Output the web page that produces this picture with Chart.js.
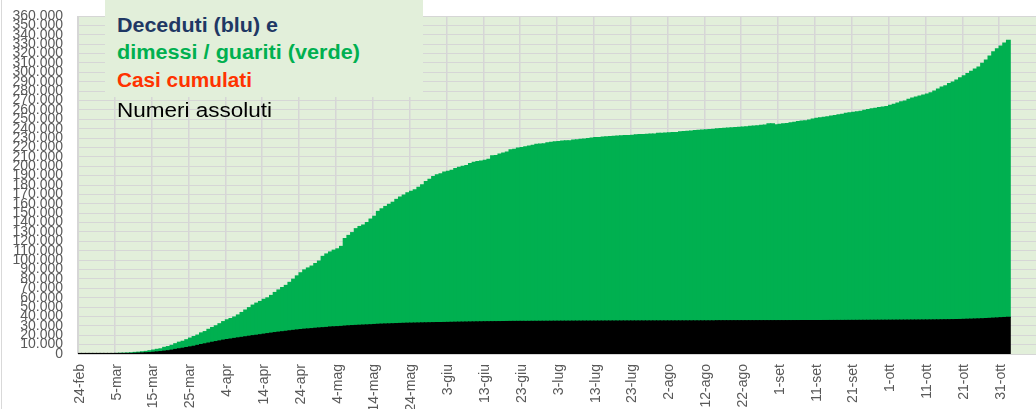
<!DOCTYPE html>
<html>
<head>
<meta charset="utf-8">
<script src="https://cdn.jsdelivr.net/npm/chart.js@4.4.1/dist/chart.umd.min.js"></script>
<style>
  html, body { margin:0; padding:0; background:#ffffff; }
  #wrap { position:relative; width:1036px; height:409px; overflow:hidden; }
  #frame { position:absolute; left:1px; top:0; width:1px; height:409px; background:#d9d9d9; }
  #box { position:absolute; left:105px; top:0; width:318px; height:97px; background:#e2efda; }
  .ln { position:absolute; left:12px; height:26px; line-height:26px; white-space:nowrap;
        font-family:"Liberation Sans", Arial, sans-serif; font-size:20px; transform-origin:0 50%; }
  .b { font-weight:bold; }
</style>
</head>
<body>
<div id="wrap">
  <canvas id="c" width="1036" height="409"></canvas>
  <div id="frame"></div>
  <div id="box">
    <div class="ln b" data-w="161" style="top:12px;color:#1f3864;">Deceduti (blu) e</div>
    <div class="ln b" data-w="243" style="top:39px;color:#00b050;">dimessi / guariti (verde)</div>
    <div class="ln b" data-w="135" style="top:67px;color:#ff3300;">Casi cumulati</div>
    <div class="ln" data-w="155" style="top:97px;color:#000000;">Numeri assoluti</div>
  </div>
</div>
<script>
// ---- data (24-feb-2020 .. 2-nov-2020, daily cumulative) ----
const startDay = { month: 1, day: 24 };            // 24 February
const monthNames = ['gen','feb','mar','apr','mag','giu','lug','ago','set','ott','nov','dic'];
const monthLengths = [31,29,31,30,31,30,31,31,30,31,30,31];
const totalCategories = 260;                       // axis runs a few days past the data

const deceduti = [
  7,10,12,17,21,29,
  34,52,79,107,148,197,233,366,463,631,827,1016,1266,1441,1809,2158,2503,2978,3405,4032,4825,5476,6077,6820,7503,8165,9134,10023,10779,11591,12428,
  13155,13915,14681,15362,15887,16523,17127,17669,18279,18849,19468,19899,20465,21067,21645,22170,22745,23227,23660,24114,24648,25085,25549,25969,26384,26644,26977,27359,27682,27967,
  28236,28710,28884,29079,29315,29684,29958,30201,30395,30560,30739,30911,31106,31368,31610,31763,31908,32007,32169,32330,32486,32616,32735,32785,32877,32955,33072,33142,33229,33340,33415,
  33475,33530,33601,33689,33774,33846,33899,33964,34043,34114,34167,34223,34301,34345,34371,34405,34448,34514,34561,34610,34634,34657,34675,34644,34678,34708,34716,34738,34744,34767,
  34788,34818,34833,34854,34861,34869,34899,34914,34926,34938,34945,34954,34967,34984,34997,35017,35028,35042,35045,35058,35073,35082,35092,35097,35102,35107,35112,35123,35129,35132,35141,
  35146,35154,35166,35171,35181,35187,35190,35203,35205,35209,35215,35225,35231,35234,35392,35396,35400,35405,35412,35418,35427,35430,35437,35441,35445,35458,35463,35472,35473,35477,35483,
  35491,35497,35507,35518,35534,35541,35553,35563,35577,35587,35597,35603,35610,35624,35633,35645,35658,35668,35692,35707,35724,35738,35758,35781,35801,35818,35835,35851,35875,35894,
  35918,35941,35968,35986,36002,36030,36061,36083,36111,36140,36166,36205,36246,36289,36372,36427,36474,36543,36616,36705,36832,36968,37059,37210,37338,37479,37700,37905,38122,38321,38618,
  38826,39059
];

const dimessiGuariti = [
  1,1,3,45,46,46,
  83,149,160,276,414,523,589,622,724,1004,1045,1258,1439,1966,2335,2749,2941,4025,4440,5129,6072,7024,7432,8326,9362,10361,10950,12384,13030,14620,15729,
  16847,18278,19758,20996,21815,22837,24392,26491,28470,30455,32534,34211,35435,37130,38092,40164,42727,44927,47055,48877,51600,54543,57576,60498,63120,64928,66624,68941,71252,75945,
  78249,79914,81654,82879,85231,93245,96276,99023,103031,105186,106587,109039,112541,115288,120205,122810,125176,127326,129401,132282,134560,136720,138840,140479,141981,144658,147101,150604,152844,155633,157507,
  158355,160092,160938,161895,163781,165078,165837,166584,168646,169939,170630,171338,172083,173085,176645,177010,178526,179455,180544,182917,183426,184585,185292,186111,186725,187615,188584,188891,189196,190248,
  190717,191083,191467,191944,192108,192241,192815,193217,193640,194073,194579,195106,195441,195603,196016,196246,196483,196806,196949,197162,197431,197628,197842,198192,198446,198593,198756,198983,199031,199796,199974,
  200229,200460,200589,200766,201323,201642,201947,202248,202697,202923,203326,203568,203786,204142,204506,204726,204960,205203,205470,205773,205959,206329,206555,206902,207297,207653,207944,208224,209600,209700,208700,
  209000,209610,210015,210801,211203,211885,212432,212821,213634,214645,215265,215981,216507,217008,217716,218351,219135,219670,220665,221060,221645,222241,222716,223693,224417,225190,225813,226506,227000,227704,
  228844,229970,231217,232681,233449,235303,236363,237549,238525,239709,240702,241947,243686,245964,247872,249127,251461,252959,255005,257374,259456,261808,264117,266203,268303,271988,275404,279282,283567,286665,289426,
  292380,294932
];

const yMax = 360000;
const yStep = 10000;
const labelEvery = 10;

// ---- categories: day labels like "24-feb" ----
const categories = [];
{
  let m = startDay.month, d = startDay.day;
  for (let i = 0; i < totalCategories; i++) {
    categories.push(d + '-' + monthNames[m]);
    d++;
    if (d > monthLengths[m]) { d = 1; m = (m + 1) % 12; }
  }
}

function fmtIt(v) {
  return String(Math.round(v)).replace(/\B(?=(\d{3})+(?!\d))/g, '.');
}

const plotBg = {
  id: 'plotBg',
  beforeDraw(chart) {
    const { ctx, chartArea: a } = chart;
    ctx.save();
    ctx.fillStyle = '#e2efda';
    ctx.fillRect(a.left, a.top, a.right - a.left, a.bottom - a.top);
    ctx.restore();
  }
};

const tickFont = { family: '"Liberation Sans", Arial, sans-serif', size: 14 };

new Chart(document.getElementById('c'), {
  type: 'bar',
  data: {
    labels: categories,
    datasets: [
      { label: 'Deceduti', data: deceduti, backgroundColor: '#000000', borderWidth: 0,
        barPercentage: 1, categoryPercentage: 1, inflateAmount: 0.6 },
      { label: 'Dimessi / guariti', data: dimessiGuariti, backgroundColor: '#00b050', borderWidth: 0,
        barPercentage: 1, categoryPercentage: 1, inflateAmount: 0.6 }
    ]
  },
  options: {
    responsive: false,
    animation: false,
    events: [],
    layout: { padding: { top: 16, left: 0, right: 0, bottom: 0 } },
    plugins: { legend: { display: false }, tooltip: { enabled: false } },
    scales: {
      x: {
        stacked: true,
        offset: true,
        grid: {
          offset: true,
          drawTicks: false,
          lineWidth: 1.5,
          color: (ctx) => (ctx.index % labelEvery === 0 ? '#d6d6d6' : 'rgba(0,0,0,0)')
        },
        border: { display: true, color: '#d6d6d6', width: 1 },
        ticks: {
          autoSkip: false,
          maxRotation: 90,
          minRotation: 90,
          padding: 10,
          color: '#595959',
          font: tickFont,
          callback: (v, i) => (i % labelEvery === 0 ? categories[i] : '')
        },
        afterFit(s) { s.height = 55; s.paddingLeft = 0; s.paddingRight = 0; }
      },
      y: {
        stacked: true,
        min: 0,
        max: yMax,
        grid: { color: '#d6d6d6', lineWidth: 1, drawTicks: false },
        border: { display: true, color: '#d6d6d6' },
        ticks: {
          stepSize: yStep,
          autoSkip: false,
          maxTicksLimit: 100,
          padding: 15,
          color: '#595959',
          font: tickFont,
          callback: (v) => fmtIt(v)
        },
        afterFit(s) { s.width = 78; s.paddingTop = 0; s.paddingBottom = 0; }
      }
    }
  },
  plugins: [plotBg]
});

// fit the title lines to the widths seen in the reference
document.querySelectorAll('.ln').forEach(el => {
  const range = document.createRange();
  range.selectNodeContents(el);
  const tw = range.getBoundingClientRect().width;
  const target = parseFloat(el.dataset.w);
  if (tw > 0) el.style.transform = 'scaleX(' + (target / tw).toFixed(3) + ')';
});
</script>
</body>
</html>
